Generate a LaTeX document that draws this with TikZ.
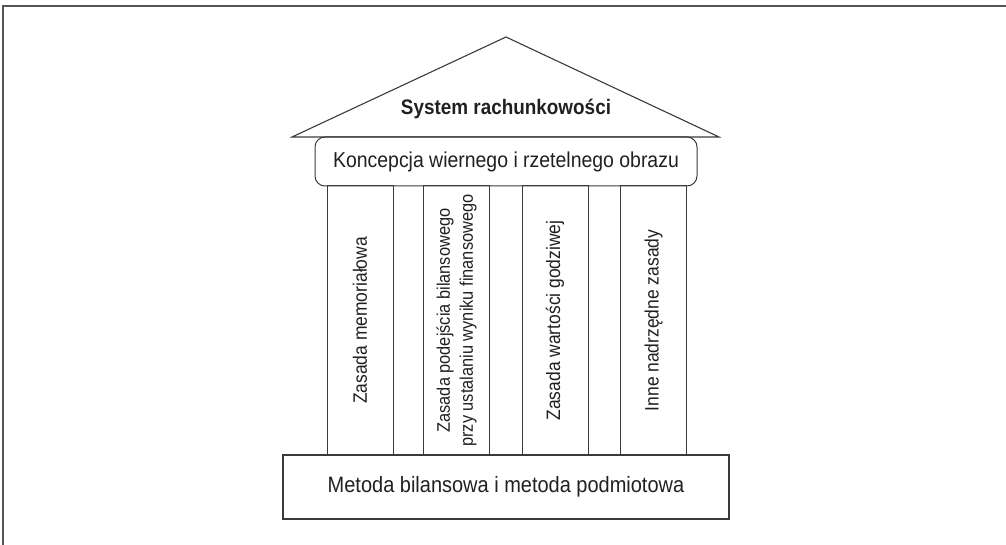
\documentclass[tikz,border=0pt]{standalone}
\usepackage{fontspec}
\setmainfont{Liberation Sans}[FakeStretch=0.9]
\definecolor{ink}{HTML}{231F20}
\definecolor{rule}{HTML}{3A3A3A}
\definecolor{framegray}{HTML}{555555}
\tikzset{
  outline/.style={draw=rule, line width=1pt},
  roofline/.style={draw=rule, line width=1.1pt, line join=miter},
  beam/.style={outline, rounded corners=10pt, minimum width=382pt, minimum height=49pt,
    inner sep=0pt, text=ink, font=\fontsize{21.6}{26}\selectfont},
  pillar/.style={outline, rotate=90, minimum width=269pt, minimum height=66pt,
    inner sep=0pt, align=center, text=ink, font=\fontsize{19.4}{23}\selectfont},
  twoline/.style={font=\fontsize{18.2}{23}\selectfont},
  plinth/.style={draw=rule, line width=2pt, minimum width=446pt, minimum height=64pt,
    inner sep=0pt, text=ink, font=\fontsize{22.2}{26}\selectfont},
  roofttitle/.style={text=ink, font=\fontsize{21}{25}\selectfont\bfseries},
  frameline/.style={draw=framegray, line width=2pt}
}
\begin{document}
\begin{tikzpicture}[x=1pt,y=-1pt]
\useasboundingbox (0,0) rectangle (1006,545);
% page frame: top and left edges only
\coordinate (ftr) at (1006,6);
\coordinate (ftl) at (3,6);
\coordinate (fbl) at (3,545);
\draw[frameline] (ftr) -- (ftl) -- (fbl);

% roof
\coordinate (apex) at (506,37);
\coordinate (eaveL) at (292,137);
\coordinate (eaveR) at (719,137);
\draw[roofline] (eaveL) -- (apex) -- (eaveR) -- cycle;
\node[roofttitle] (title) at (506,109) {System rachunkowości};

% beam under the roof
\node[beam] (concept) at (506,161.5) {Koncepcja wiernego i rzetelnego obrazu};

% pillars
\node[pillar] (p1) at (360,320.5) {Zasada memoriałowa};
\node[pillar, twoline] (p2) at (456.5,320.5) {Zasada podejścia bilansowego\\przy ustalaniu wyniku finansowego};
\node[pillar] (p3) at (555,320.5) {Zasada wartości godziwej};
\node[pillar] (p4) at (653.5,320.5) {Inne nadrzędne zasady};

% base
\node[plinth] (base) at (506,487) {Metoda bilansowa i metoda podmiotowa};
\end{tikzpicture}
\end{document}
